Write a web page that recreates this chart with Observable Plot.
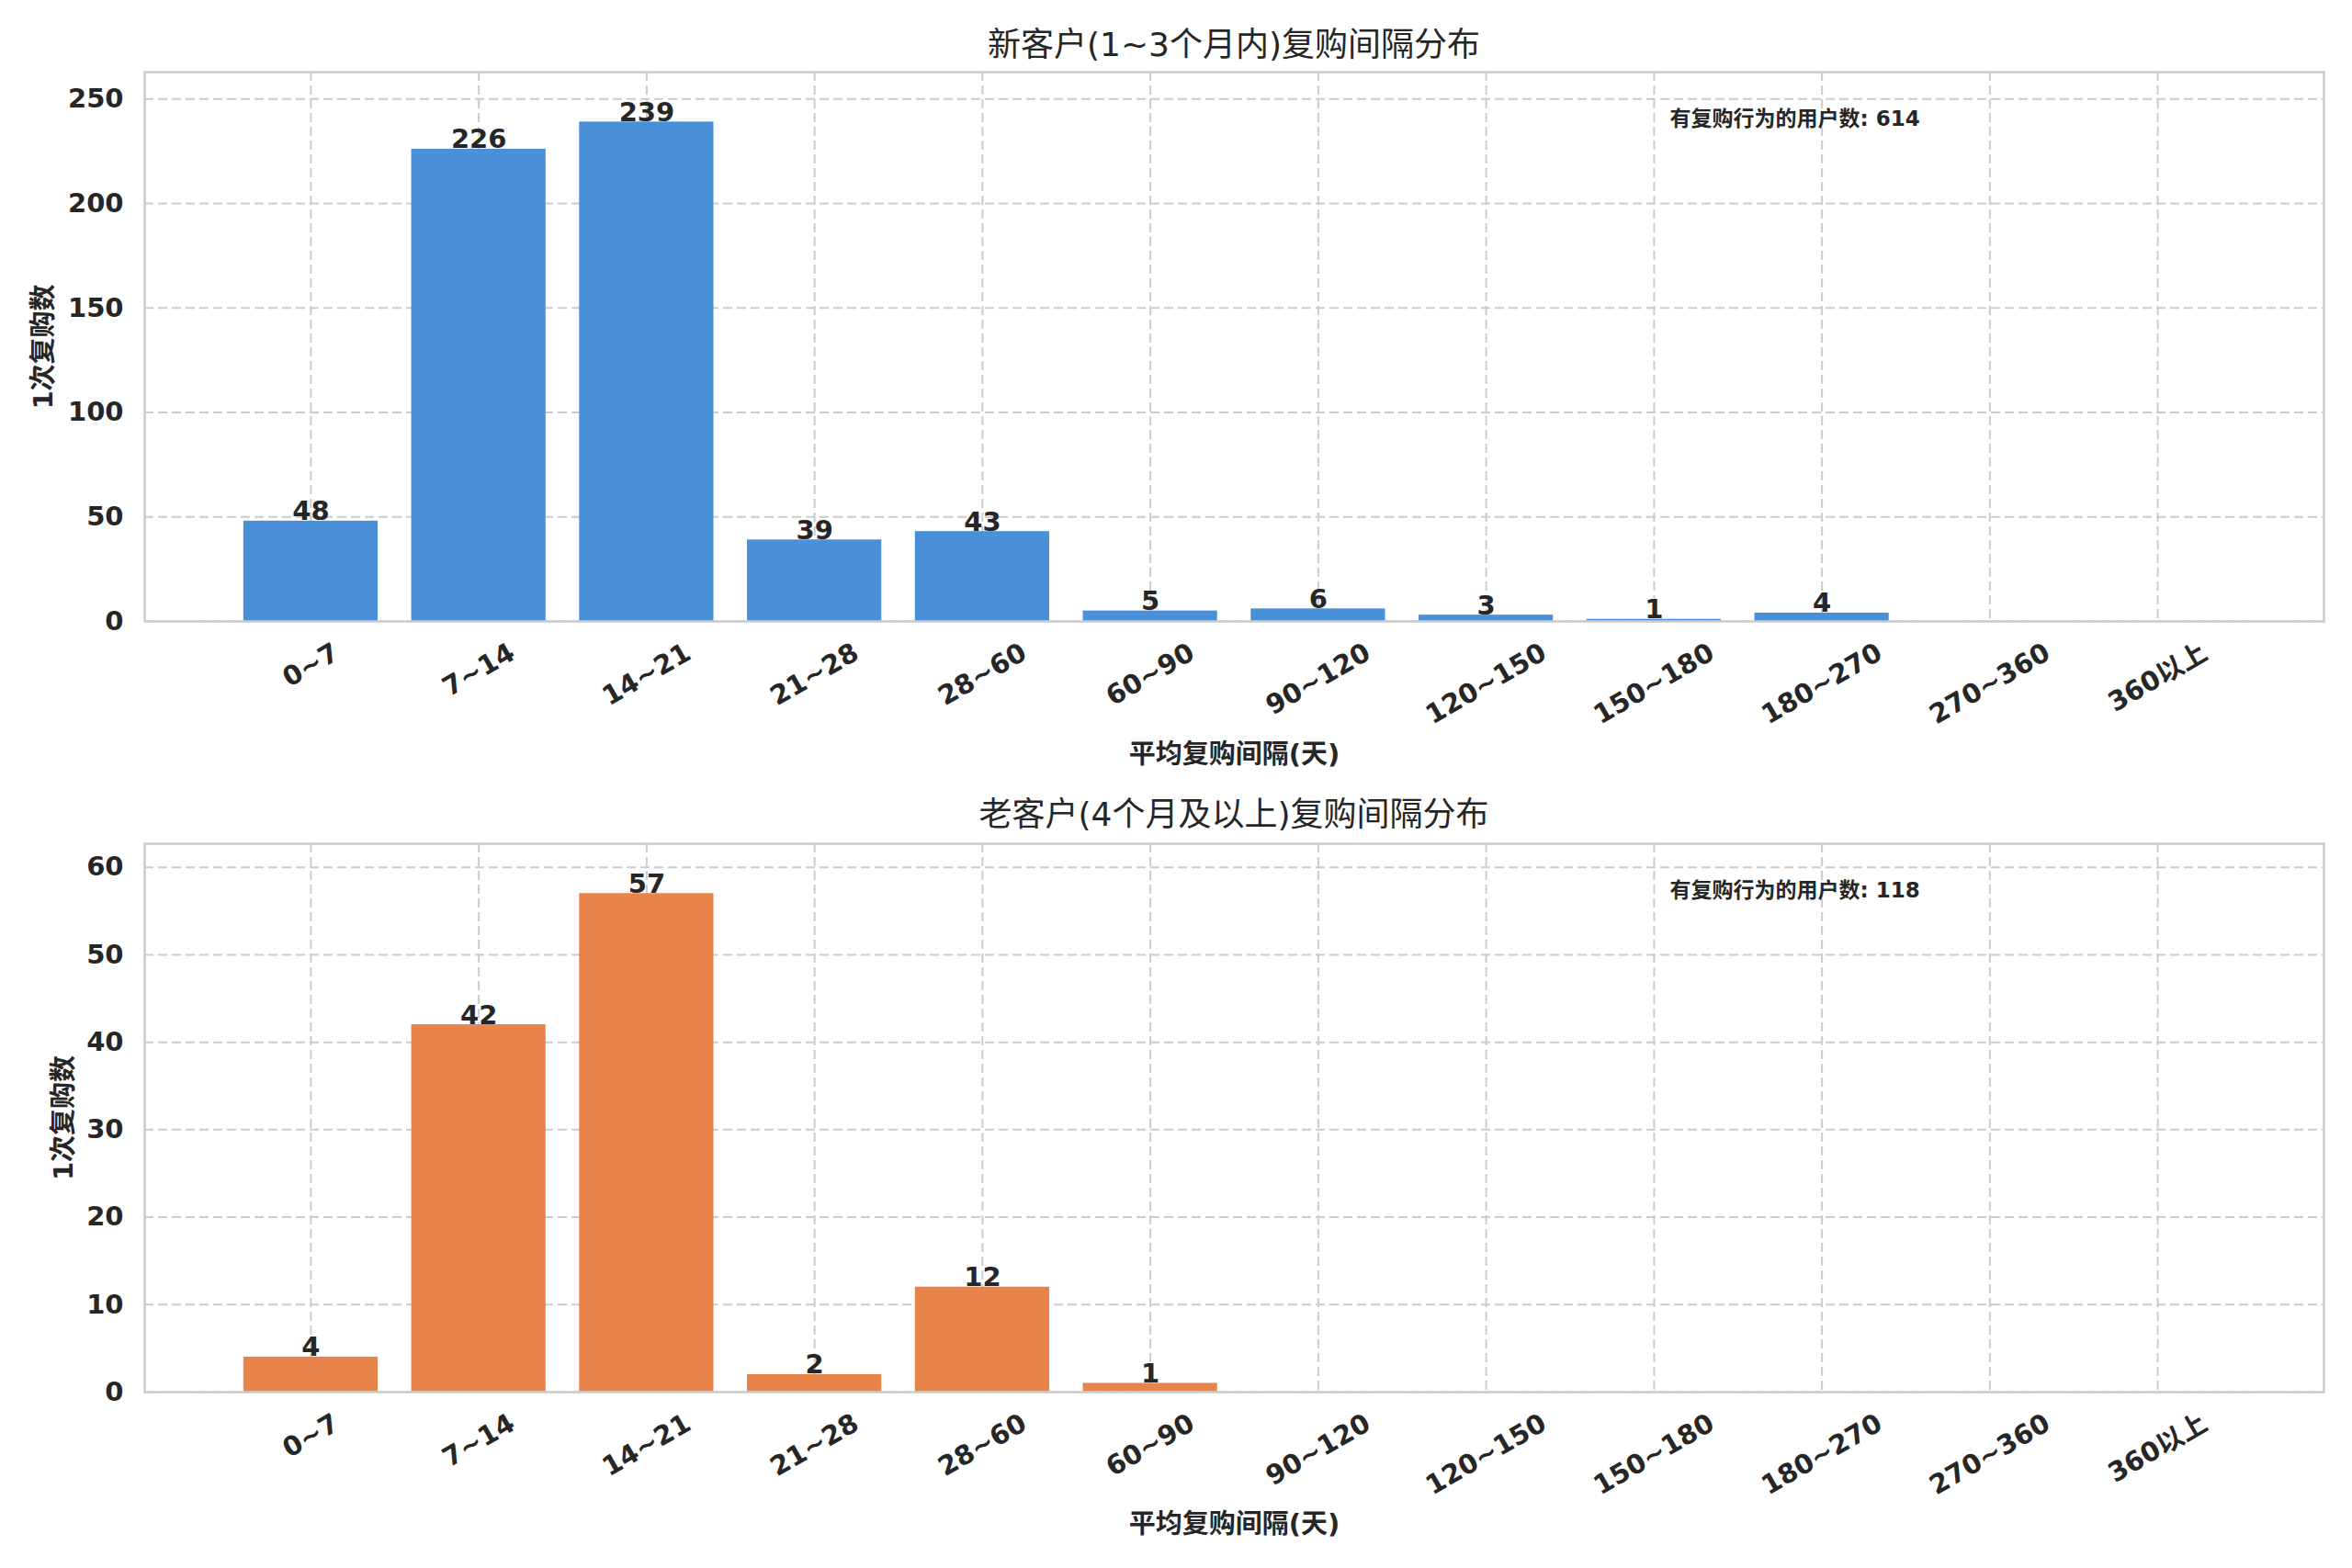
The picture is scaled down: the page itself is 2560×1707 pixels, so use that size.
<!DOCTYPE html>
<html>
<head>
<meta charset="utf-8">
<script src="https://cdn.jsdelivr.net/npm/d3@7"></script>
<script src="https://cdn.jsdelivr.net/npm/@observablehq/plot@0.6"></script>
<style>
  html, body { margin: 0; padding: 0; background: #ffffff; }
  #fig { position: relative; width: 2560px; height: 1707px; background: #ffffff;
         font-family: "DejaVu Sans", "Noto Sans CJK SC", sans-serif; color: #262626; }
  .title { position: absolute; left: 157px; width: 2372px; text-align: center;
           font-size: 36px; line-height: 50px; height: 50px; color: #262626; }
  .panel { position: absolute; left: 0; }
</style>
</head>
<body>
<div id="fig">
  <div class="title" id="t1" style="top:24px"></div>
  <div class="panel" id="p1" style="top:70px"></div>
  <div class="title" id="t2" style="top:862px"></div>
  <div class="panel" id="p2" style="top:910px"></div>
</div>
<script>
// ---- data ----
const categories = ["0~7", "7~14", "14~21", "21~28", "28~60", "60~90", "90~120", "120~150", "150~180", "180~270", "270~360", "360以上"];
const valuesNew = [48, 226, 239, 39, 43, 5, 6, 3, 1, 4, 0, 0];
const valuesOld = [4, 42, 57, 2, 12, 1, 0, 0, 0, 0, 0, 0];
const yTicksNew = [0, 50, 100, 150, 200, 250];
const yTicksOld = [0, 10, 20, 30, 40, 50, 60];
const titleNew = "新客户(1~3个月内)复购间隔分布";
const titleOld = "老客户(4个月及以上)复购间隔分布";
const xLabel = "平均复购间隔(天)";
const yLabel = "1次复购数";
const notePrefix = "有复购行为的用户数";
const colorNew = "#4A90D9";
const colorOld = "#E8844A";

const FONT = "DejaVu Sans, Noto Sans CJK SC, sans-serif";
const TICK_FS = 29;
const measureCtx = document.createElement("canvas").getContext("2d");
measureCtx.font = `bold ${TICK_FS}px "DejaVu Sans", "Noto Sans CJK SC", sans-serif`;

function panel(values, yTicks, color, opts) {
  const rows = categories.map((c, i) => ({c, v: values[i]}));
  const total = d3.sum(values);
  const yMax = d3.max(values) * 1.1;
  const pad = 17;
  const h = TICK_FS * 1.17;
  const tickMarks = categories.map(c => {
    const w = measureCtx.measureText(c).width;
    const off = pad + (w / 2) * Math.sin(Math.PI / 6) + (h / 2) * Math.cos(Math.PI / 6);
    return Plot.text([c], {
      x: d => d, frameAnchor: "bottom", dy: off, rotate: -30,
      textAnchor: "middle", lineAnchor: "middle",
      fontSize: TICK_FS, fontWeight: "bold", fill: "#262626", fontFamily: FONT
    });
  });
  return Plot.plot({
    width: 2560,
    height: opts.height,
    marginLeft: 157,
    marginRight: 31,
    marginTop: 8,
    marginBottom: opts.marginBottom,
    style: {background: "white", fontFamily: FONT, overflow: "visible"},
    x: {domain: categories, paddingInner: 0.2, paddingOuter: 0.59, round: false, axis: null},
    y: {domain: [0, yMax], nice: false, axis: null},
    marks: [
      Plot.gridY(yTicks, {stroke: "#cccccc", strokeOpacity: 1, strokeWidth: 2, strokeDasharray: "10,5"}),
      Plot.ruleX(categories, {x: d => d, stroke: "#cccccc", strokeOpacity: 1, strokeWidth: 2, strokeDasharray: "10,5"}),
      Plot.barY(rows, {x: "c", y: "v", fill: color}),
      Plot.text(rows.filter(d => d.v > 0), {
        x: "c", y: "v", text: d => String(d.v), lineAnchor: "bottom", dy: -1,
        fontSize: TICK_FS, fontWeight: "bold", fill: "#262626", fontFamily: FONT
      }),
      Plot.frame({stroke: "#cccccc", strokeWidth: 2.5}),
      Plot.axisY({ticks: yTicks, tickSize: 0, tickPadding: 23, fontSize: TICK_FS, fontWeight: "bold",
                  fill: "#262626", label: null, fontFamily: FONT}),
      ...tickMarks,
      Plot.text([xLabel], {text: d => d, frameAnchor: "bottom", dy: opts.xLabelDy, lineAnchor: "middle",
                 fontSize: TICK_FS, fontWeight: "bold", fill: "#262626", fontFamily: FONT}),
      Plot.text([yLabel], {text: d => d, frameAnchor: "left", dx: opts.yLabelDx, rotate: -90,
                 lineAnchor: "middle", textAnchor: "middle",
                 fontSize: TICK_FS, fontWeight: "bold", fill: "#262626", fontFamily: FONT}),
      Plot.text([`${notePrefix}: ${total}`], {text: d => d, frameAnchor: "top-left", dx: 1660, dy: 51,
                 textAnchor: "start", lineAnchor: "middle",
                 fontSize: 23, fontWeight: "bold", fill: "#262626", fontFamily: FONT})
    ]
  });
}

document.getElementById("t1").textContent = titleNew;
document.getElementById("t2").textContent = titleOld;
document.getElementById("p1").appendChild(panel(valuesNew, yTicksNew, colorNew,
  {height: 800, marginBottom: 194, xLabelDy: 145, yLabelDx: -110}));
document.getElementById("p2").appendChild(panel(valuesOld, yTicksOld, colorOld,
  {height: 790, marginBottom: 185, xLabelDy: 144, yLabelDx: -88}));
</script>
</body>
</html>
